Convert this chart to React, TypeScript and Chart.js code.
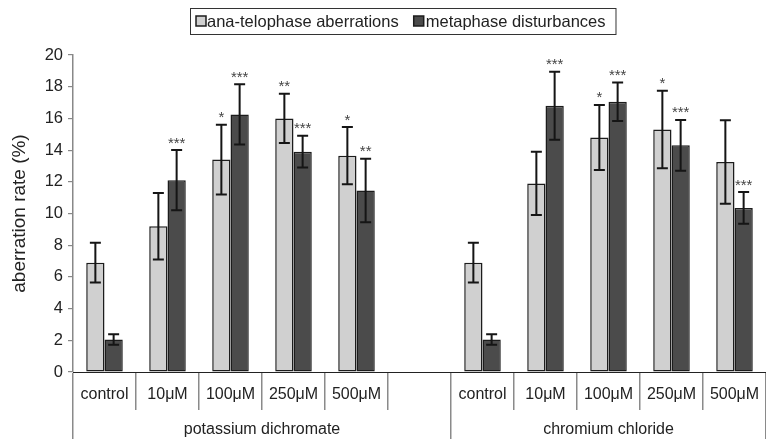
import React, { useEffect, useRef } from "react";
import Chart from "chart.js/auto";

const categories = ["control", "10μM", "100μM", "250μM", "500μM", "", "control", "10μM", "100μM", "250μM", "500μM"];
const groupLabels = ["potassium dichromate", "chromium chloride"];
const groupSpans = [6, 5];
const seriesNames = ["ana-telophase aberrations", "metaphase disturbances"];

const anaTelophase = [6.9, 9.2, 13.4, 16.0, 13.65, null, 6.9, 11.9, 14.8, 15.3, 13.25];
const anaErr = [1.25, 2.1, 2.2, 1.55, 1.8, null, 1.25, 2.0, 2.05, 2.45, 2.63];
const anaStars = ["", "", "*", "**", "*", "", "", "", "*", "*", ""];

const metaphase = [2.05, 12.1, 16.25, 13.9, 11.45, null, 2.05, 16.8, 17.05, 14.3, 10.35];
const metaErr = [0.33, 1.9, 1.9, 1.0, 2.0, null, 0.33, 2.15, 1.22, 1.6, 1.0];
const metaStars = ["", "***", "***", "***", "**", "", "", "***", "***", "***", "***"];

const yTitle = "aberration rate (%)";

const LIGHT = "#d0d0d0";
const DARK = "#4b4b4b";
const EDGE = "#1c1c1c";
const TEXT = "#222";
const FONT = "Liberation Sans, Arial, sans-serif";

const errStars = [
  { err: anaErr, stars: anaStars },
  { err: metaErr, stars: metaStars },
];

const overlay = {
  id: "overlay",
  afterDatasetsDraw(chart: any) {
    const ctx = chart.ctx;
    const y = chart.scales.y;
    ctx.save();
    chart.data.datasets.forEach((ds: any, di: number) => {
      const meta = chart.getDatasetMeta(di);
      meta.data.forEach((el: any, i: number) => {
        const v = ds.data[i];
        const e = errStars[di].err[i];
        if (v == null || e == null) return;
        const x = el.x;
        const top = y.getPixelForValue(v + e);
        const bot = y.getPixelForValue(v - e);
        ctx.strokeStyle = "#151515";
        ctx.lineWidth = 2;
        ctx.beginPath();
        ctx.moveTo(x, top);
        ctx.lineTo(x, bot);
        ctx.moveTo(x - 5.5, top);
        ctx.lineTo(x + 5.5, top);
        ctx.moveTo(x - 5.5, bot);
        ctx.lineTo(x + 5.5, bot);
        ctx.stroke();
        const s = errStars[di].stars[i];
        if (s) {
          ctx.fillStyle = "#444";
          ctx.font = "15px " + FONT;
          ctx.textAlign = "center";
          ctx.textBaseline = "alphabetic";
          ctx.fillText(s, x, top - 2.5);
        }
      });
    });
    ctx.restore();
  },
  afterDraw(chart: any) {
    const ctx = chart.ctx;
    const xs = chart.scales.x;
    const area = chart.chartArea;
    const n = categories.length;
    const cw = (area.right - area.left) / n;
    ctx.save();
    // x axis line
    ctx.strokeStyle = "#222";
    ctx.lineWidth = 1.2;
    ctx.beginPath();
    ctx.moveTo(area.left, area.bottom + 0.5);
    ctx.lineTo(area.right, area.bottom + 0.5);
    ctx.stroke();
    // dividers
    const groupBounds = new Set<number>();
    let acc = 0;
    groupBounds.add(0);
    groupSpans.forEach((s) => {
      acc += s;
      groupBounds.add(acc);
    });
    ctx.strokeStyle = "#8a8a8a";
    ctx.lineWidth = 1.5;
    for (let i = 0; i <= n; i++) {
      const bx = Math.round(area.left + i * cw) - 0.25;
      ctx.beginPath();
      ctx.moveTo(bx, area.bottom + 1);
      ctx.lineTo(bx, groupBounds.has(i) ? chart.height : area.bottom + 38);
      ctx.stroke();
    }
    // category labels
    ctx.fillStyle = TEXT;
    ctx.font = "16px " + FONT;
    ctx.textAlign = "center";
    ctx.textBaseline = "middle";
    categories.forEach((c, i) => {
      if (!c) return;
      ctx.fillText(c, xs.getPixelForValue(i), area.bottom + 23);
    });
    // group labels
    let start = 0;
    groupLabels.forEach((g, gi) => {
      const l = area.left + start * cw;
      const r = area.left + (start + groupSpans[gi]) * cw;
      ctx.fillText(g, (l + r) / 2, area.bottom + 58);
      start += groupSpans[gi];
    });
    // y title
    ctx.save();
    ctx.translate(20, (area.top + area.bottom) / 2);
    ctx.rotate(-Math.PI / 2);
    ctx.font = "19px " + FONT;
    ctx.fillText(yTitle, 0, 0);
    ctx.restore();
    // legend
    ctx.font = "16.5px " + FONT;
    ctx.textAlign = "left";
    const w1 = ctx.measureText(seriesNames[0]).width;
    const w2 = ctx.measureText(seriesNames[1]).width;
    const boxL = 190;
    const cy = 21;
    const sw1 = boxL + 6;
    const t1 = sw1 + 11;
    const sw2 = t1 + w1 + 15;
    const t2 = sw2 + 12;
    const boxR = t2 + w2 + 10;
    ctx.strokeStyle = "#333";
    ctx.lineWidth = 1;
    ctx.strokeRect(boxL + 0.5, 8.5, boxR - boxL, 26);
    [[sw1, LIGHT], [sw2, DARK]].forEach(([sx, col]: any) => {
      ctx.fillStyle = col;
      ctx.fillRect(sx, cy - 5, 10, 10);
      ctx.strokeStyle = EDGE;
      ctx.lineWidth = 1.5;
      ctx.strokeRect(sx, cy - 5, 10, 10);
    });
    ctx.fillStyle = TEXT;
    ctx.fillText(seriesNames[0], t1, cy + 1);
    ctx.fillText(seriesNames[1], t2, cy + 1);
    ctx.restore();
  },
};

export default function App() {
  const ref = useRef<HTMLCanvasElement>(null);
  useEffect(() => {
    const chart = new Chart(ref.current as HTMLCanvasElement, {
      type: "bar",
      data: {
        labels: categories,
        datasets: [
          {
            label: seriesNames[0],
            data: anaTelophase as any,
            backgroundColor: LIGHT,
            borderColor: EDGE,
            borderWidth: 1.5,
            borderSkipped: false,
            categoryPercentage: 0.58,
            barPercentage: 1,
          },
          {
            label: seriesNames[1],
            data: metaphase as any,
            backgroundColor: DARK,
            borderColor: EDGE,
            borderWidth: 1.5,
            borderSkipped: false,
            categoryPercentage: 0.58,
            barPercentage: 1,
          },
        ],
      },
      options: {
        responsive: false,
        animation: false,
        devicePixelRatio: 1,
        layout: { padding: { top: 55, left: 0, right: 0, bottom: 0 } },
        plugins: { legend: { display: false }, tooltip: { enabled: false } },
        scales: {
          x: {
            ticks: { display: false },
            grid: { display: false },
            border: { display: false },
            afterFit: (s: any) => {
              s.height = 67;
            },
          },
          y: {
            min: 0,
            max: 20,
            ticks: {
              stepSize: 2,
              color: TEXT,
              font: { family: FONT, size: 16.5 },
              padding: 5,
            },
            grid: {
              drawOnChartArea: false,
              drawTicks: true,
              tickLength: 5,
              color: "#888",
              lineWidth: 1.2,
            },
            border: { color: "#888", width: 1.5 },
            afterFit: (s: any) => {
              s.width = 73;
            },
          },
        },
      },
      plugins: [overlay],
    });
    return () => chart.destroy();
  }, []);
  return (
    <div style={{ position: "fixed", left: 0, top: 0, width: 766, height: 439, background: "#fff" }}>
      <canvas ref={ref} width={766} height={439} style={{ display: "block" }} />
    </div>
  );
}
